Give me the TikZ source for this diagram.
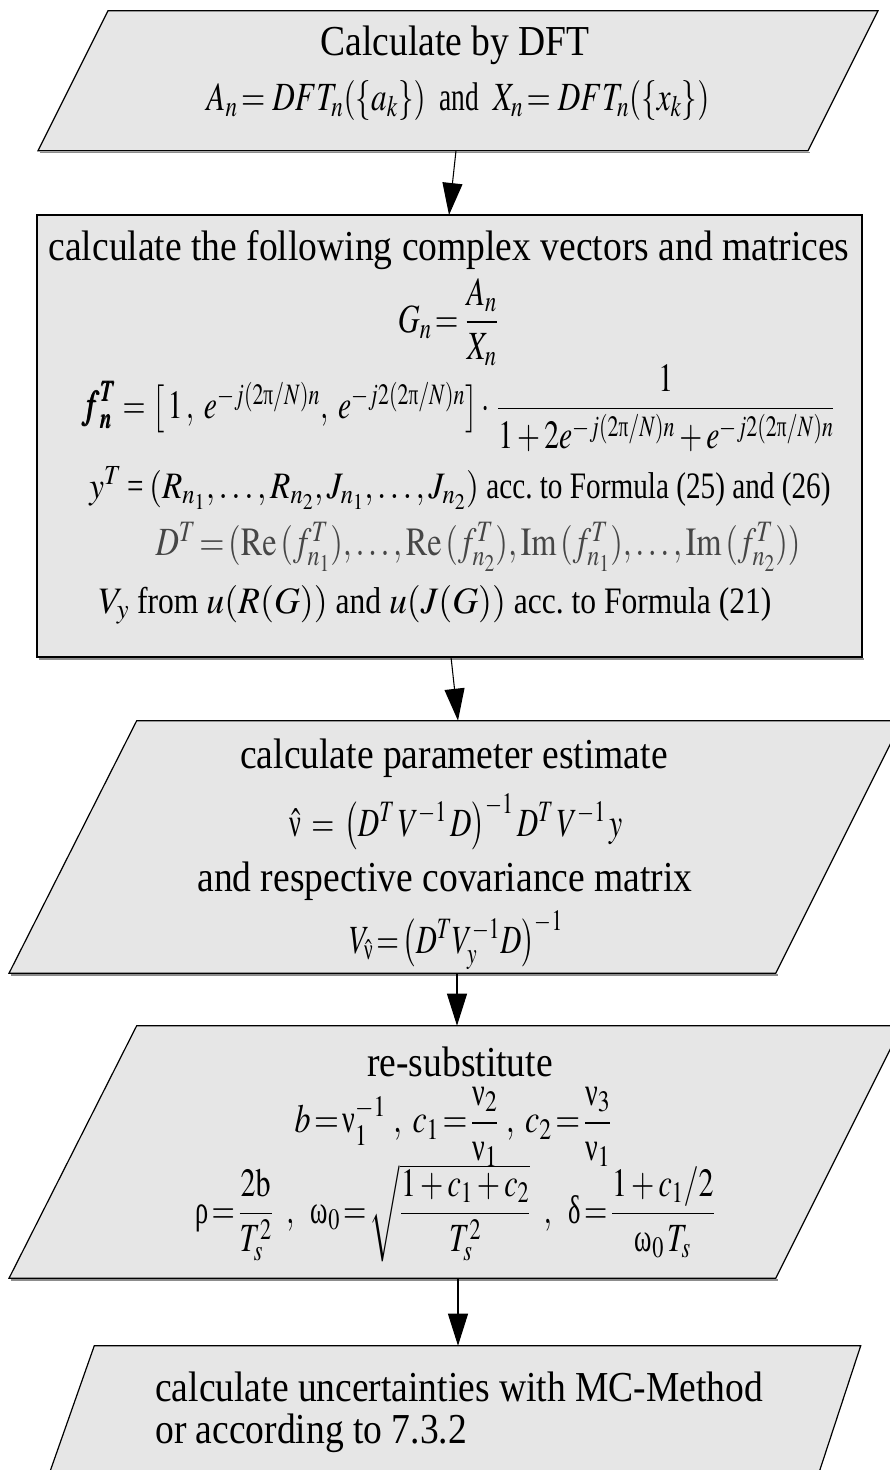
\documentclass[tikz,border=0pt]{standalone}
\usepackage{amsmath}
\usepackage{mathptmx}
\usepackage{graphicx}
\usepackage{bm}
\usepackage{fontspec}
\setmainfont{Liberation Serif}[FakeStretch=0.88]
\usetikzlibrary{arrows.meta}
\definecolor{boxfill}{RGB}{230,230,230}
\definecolor{shadowc}{RGB}{140,140,140}
\definecolor{lightmath}{RGB}{70,70,70}
\newcommand{\cx}[2][0.75]{\scalebox{#1}[1]{#2}}
\newcommand{\gnu}{\text{ν}}
\newcommand{\gpi}{\text{π}}
\newcommand{\grho}{\text{ρ}}
\newcommand{\gomega}{\text{ω}}
\newcommand{\gdelta}{\text{δ}}
\tikzset{
  box/.style={fill=boxfill, draw=black, line width=0.9pt, line join=miter},
  shade line/.style={draw=shadowc, line width=1.1pt},
  flow/.style={draw=black, line width=0.8pt, -{Triangle[length=24pt,width=15pt]}},
  title/.style={font=\fontsize{32}{36}\selectfont, inner sep=0pt, anchor=center},
  formula/.style={font=\fontsize{30}{34}\selectfont, inner sep=0pt, anchor=center},
  mixline/.style={font=\fontsize{28}{32}\selectfont, inner sep=0pt, anchor=center},
}
\begin{document}
\begin{tikzpicture}[x=0.75pt,y=-0.75pt]
\useasboundingbox (0,0) rectangle (889,1470);
% ---------- box 1
\draw[shade line] (40,152.5) -- (810,152.5);
\path[box] (108,10.7) -- (878,10.7) -- (808,150.7) -- (38,150.7) -- cycle;
\node[title] (t1) at (455,45) {Calculate by DFT};
\node[formula] (f1) at (458,100) {\cx[0.78]{$A_n\!=DFT_n(\{a_k\})$\ \ and\ \ $X_n\!=DFT_n(\{x_k\})$}};
\coordinate (o1) at (456,150.7);
% ---------- box 2
\draw[shade line] (39,659) -- (864,659);
\path[box] (37,215) rectangle (862,657);
\coordinate (i2) at (449,215);
\coordinate (o2) at (451,657);
\node[title] (t2) at (449,250) {calculate the following complex vectors and matrices};
\node[formula] (f2a) at (448,322) {\cx[0.76]{$G_n\!=\dfrac{A_n}{X_n}$}};
\node[formula] (f2b) at (458,408) {\cx[0.74]{$\bm{f}^{\bm{T}}_{\bm{n}}=\bigl[\,1\,,\ e^{-j(2\gpi/N)n},\ e^{-j2(2\gpi/N)n}\bigr]\cdot\,\dfrac{1}{1+2e^{-j(2\gpi/N)n}+e^{-j2(2\gpi/N)n}}$}};
\node[mixline] (f2c) at (460,488) {\cx[0.89]{$y^T$\,=\,$(R_{n_1},\dots,R_{n_2},J_{n_1},\dots,J_{n_2})$ acc.\ to Formula (25) and (26)}};
\node[formula, text=lightmath] (f2d) at (478,547) {\cx[0.81]{$D^T\!=\!(\mathrm{Re}\,(f^T_{n_1}),\dots,\mathrm{Re}\,(f^T_{n_2}),\mathrm{Im}\,(f^T_{n_1}),\dots,\mathrm{Im}\,(f^T_{n_2}))$}};
\node[mixline] (f2e) at (435,605) {\cx[0.96]{$V_y$ from $u(R(G))$ and $u(J(G))$ acc.\ to Formula (21)}};
% ---------- box 3
\draw[shade line] (11,975) -- (778,975);
\path[box] (136.7,720.7) -- (902,720.7) -- (775.7,973.3) -- (9,973.3) -- cycle;
\coordinate (i3) at (458,720.7);
\coordinate (o3) at (457,973.3);
\node[title] (t3) at (454,758) {calculate parameter estimate};
\node[formula] (f3a) at (456,822) {\cx[0.74]{$\hat{\gnu}\,=\,\bigl(D^T\, V^{-1}\, D\bigr)^{-1}\, D^T\, V^{-1}\, y$}};
\node[title] (t3b) at (445,881) {and respective covariance matrix};
\node[formula] (f3b) at (456,940) {\cx[0.73]{$V_{\hat\gnu}\!=\!\bigl(D^T V_y^{-1} D\bigr)^{-1}$}};
% ---------- box 4
\draw[shade line] (11,1280) -- (778,1280);
\path[box] (136.7,1025.7) -- (902,1025.7) -- (775.7,1278.3) -- (9,1278.3) -- cycle;
\coordinate (i4) at (457,1025.7);
\coordinate (o4) at (458,1278.3);
\node[title] (t4) at (460,1062) {re-substitute};
\node[formula] (f4a) at (453,1127) {\cx[0.8]{$b\!=\!\gnu_1^{-1}\ ,\ c_1\!=\!\dfrac{\gnu_2}{\gnu_1}\ ,\ c_2\!=\!\dfrac{\gnu_3}{\gnu_1}$}};
\node[formula] (f4b) at (455,1213) {\cx[0.75]{$\grho\!=\!\dfrac{2\mathrm{b}}{T_s^2}\ \ ,\ \ \gomega_0\!=\!\sqrt{\dfrac{1+c_1+c_2}{T_s^2}}\ \ ,\ \ \gdelta\!=\!\dfrac{1+c_1/2}{\gomega_0\, T_s}$}};
% ---------- box 5
\path[box] (94.3,1345.7) -- (860.7,1345.7) -- (810,1500) -- (40,1500) -- cycle;
\coordinate (i5) at (458,1345.7);
\node[title, anchor=north west, align=left, font=\fontsize{32}{31}\selectfont] (t5) at (155,1372) {calculate uncertainties with MC-Method\\or according to 7.3.2};
% ---------- connectors
\draw[flow] (o1) -- (i2);
\draw[flow] (o2) -- (i3);
\draw[flow] (o3) -- (i4);
\draw[flow] (o4) -- (i5);
\end{tikzpicture}
\end{document}
